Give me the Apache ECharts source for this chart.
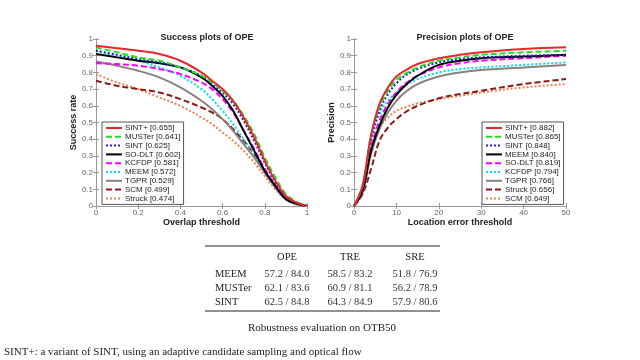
<!DOCTYPE html>
<html>
<head>
<meta charset="utf-8">
<script src="https://cdn.jsdelivr.net/npm/echarts@6/dist/echarts.min.js"></script>
<style>
  html, body { margin: 0; padding: 0; background: #fff; }
  #chart { width: 640px; height: 360px; }
</style>
</head>
<body>
<div id="chart"></div>
<script>
// ---- success plot (overlap threshold 0..1) ----
const successX = [0, 0.1, 0.2, 0.3, 0.4, 0.5, 0.55, 0.6, 0.65, 0.7, 0.75, 0.8, 0.85, 0.9, 0.95, 1];
const successNames = ['SINT+ [0.655]', 'MUSTer [0.641]', 'SINT [0.625]', 'SO-DLT [0.602]', 'KCFDP [0.581]',
  'MEEM [0.572]', 'TGPR [0.529]', 'SCM [0.499]', 'Struck [0.474]'];
const sucSINTplus = [0.96, 0.945, 0.93, 0.91, 0.87, 0.80, 0.75, 0.70, 0.63, 0.53, 0.41, 0.27, 0.15, 0.06, 0.02, 0];
const sucMUSTer = [0.95, 0.92, 0.89, 0.87, 0.83, 0.78, 0.74, 0.69, 0.63, 0.54, 0.43, 0.29, 0.17, 0.07, 0.025, 0];
const sucSINT = [0.93, 0.905, 0.88, 0.86, 0.83, 0.78, 0.73, 0.68, 0.61, 0.51, 0.39, 0.26, 0.14, 0.055, 0.02, 0];
const sucSODLT = [0.91, 0.89, 0.87, 0.855, 0.83, 0.77, 0.72, 0.66, 0.57, 0.45, 0.33, 0.21, 0.12, 0.04, 0.015, 0];
const sucKCFDP = [0.855, 0.85, 0.84, 0.82, 0.79, 0.74, 0.70, 0.64, 0.56, 0.45, 0.34, 0.22, 0.12, 0.05, 0.015, 0];
const sucMEEM = [0.93, 0.90, 0.87, 0.83, 0.78, 0.70, 0.64, 0.57, 0.49, 0.40, 0.31, 0.21, 0.12, 0.05, 0.015, 0];
const sucTGPR = [0.865, 0.84, 0.81, 0.77, 0.71, 0.63, 0.58, 0.52, 0.45, 0.37, 0.29, 0.20, 0.11, 0.04, 0.01, 0];
const sucSCM = [0.75, 0.72, 0.70, 0.68, 0.64, 0.59, 0.56, 0.52, 0.46, 0.39, 0.31, 0.22, 0.12, 0.05, 0.015, 0];
const sucStruck = [0.79, 0.74, 0.70, 0.65, 0.60, 0.53, 0.49, 0.44, 0.39, 0.33, 0.26, 0.18, 0.10, 0.04, 0.01, 0];

// ---- precision plot (location error threshold 0..50) ----
const precisionX = [0, 2, 4, 6, 8, 10, 12, 15, 20, 25, 30, 40, 50];
const precisionNames = ['SINT+ [0.882]', 'MUSTer [0.865]', 'SINT [0.848]', 'MEEM [0.840]', 'SO-DLT [0.819]',
  'KCFDP [0.794]', 'TGPR [0.766]', 'Struck [0.656]', 'SCM [0.649]'];
const preSINTplus = [0, 0.12, 0.42, 0.61, 0.71, 0.775, 0.81, 0.85, 0.885, 0.905, 0.92, 0.94, 0.95];
const preMUSTer = [0, 0.12, 0.42, 0.59, 0.69, 0.755, 0.79, 0.83, 0.87, 0.89, 0.905, 0.92, 0.93];
const preSINT = [0, 0.11, 0.40, 0.57, 0.67, 0.735, 0.78, 0.82, 0.86, 0.88, 0.89, 0.90, 0.905];
const preMEEM = [0, 0.09, 0.33, 0.48, 0.59, 0.665, 0.72, 0.78, 0.845, 0.87, 0.885, 0.895, 0.905];
const preSODLT = [0, 0.09, 0.35, 0.51, 0.61, 0.68, 0.73, 0.78, 0.83, 0.855, 0.87, 0.885, 0.90];
const preKCFDP = [0, 0.10, 0.38, 0.55, 0.63, 0.68, 0.72, 0.76, 0.80, 0.82, 0.83, 0.845, 0.86];
const preTGPR = [0, 0.08, 0.31, 0.46, 0.56, 0.63, 0.68, 0.73, 0.775, 0.80, 0.815, 0.83, 0.845];
const preStruck = [0, 0.07, 0.22, 0.39, 0.47, 0.52, 0.56, 0.60, 0.645, 0.67, 0.69, 0.73, 0.76];
const preSCM = [0, 0.09, 0.34, 0.47, 0.53, 0.57, 0.59, 0.615, 0.64, 0.66, 0.68, 0.71, 0.73];

// ---- robustness table ----
const tableCols = ['OPE', 'TRE', 'SRE'];
const tableRows = ['MEEM', 'MUSTer', 'SINT'];
const tableCells = [
  ['57.2 / 84.0', '58.5 / 83.2', '51.8 / 76.9'],
  ['62.1 / 83.6', '60.9 / 81.1', '56.2 / 78.9'],
  ['62.5 / 84.8', '64.3 / 84.9', '57.9 / 80.6']
];
const tableCaption = 'Robustness evaluation on OTB50';
const footnote = 'SINT+: a variant of SINT, using an adaptive candidate sampling and optical flow';

// line style per legend rank (same in both plots)
const styles = [
  { color: '#e8262b', type: 'solid' },
  { color: '#22dd22', type: [6, 3] },
  { color: '#2424c8', type: [2, 2] },
  { color: '#000000', type: 'solid' },
  { color: '#ff00ff', type: [6, 3] },
  { color: '#00e0ee', type: [2, 2] },
  { color: '#8a817c', type: 'solid' },
  { color: '#8b1a1a', type: [6, 3] },
  { color: '#f08050', type: [2, 2] }
];

const successData = [sucSINTplus, sucMUSTer, sucSINT, sucSODLT, sucKCFDP, sucMEEM, sucTGPR, sucSCM, sucStruck];
const precisionData = [preSINTplus, preMUSTer, preSINT, preMEEM, preSODLT, preKCFDP, preTGPR, preStruck, preSCM];

const sansFont = '"Liberation Sans", "DejaVu Sans", sans-serif';
const serifFont = '"Liberation Serif", "DejaVu Serif", serif';

const makeSeries = (names, data, xs, axisIdx) => names.map((name, i) => ({
  name: name,
  type: 'line',
  xAxisIndex: axisIdx,
  yAxisIndex: axisIdx,
  data: xs.map((x, k) => [x, data[i][k]]),
  smooth: 0.35,
  symbol: 'none',
  showSymbol: false,
  silent: true,
  z: 20 - i,
  lineStyle: { width: 2, color: styles[i].color, type: styles[i].type },
  itemStyle: { color: styles[i].color }
}));

const mainX = (grid, max, interval, name) => ({
  type: 'value', gridIndex: grid, min: 0, max: max, interval: interval,
  name: name, nameLocation: 'middle', nameGap: 11,
  nameTextStyle: { fontFamily: sansFont, fontWeight: 'bold', fontSize: 9, color: '#222' },
  axisLine: { show: true, lineStyle: { color: '#999' } },
  axisTick: { inside: true, length: 3, lineStyle: { color: '#999' } },
  axisLabel: { fontFamily: sansFont, fontSize: 8, color: '#666', margin: 3 },
  splitLine: { show: false }
});
const mainY = (grid, name) => ({
  type: 'value', gridIndex: grid, min: 0, max: 1, interval: 0.1,
  name: name, nameLocation: 'middle', nameGap: 18, nameMoveOverlap: false,
  nameTextStyle: { fontFamily: sansFont, fontWeight: 'bold', fontSize: 9, color: '#222' },
  axisLine: { show: true, lineStyle: { color: '#999' } },
  axisTick: { inside: true, length: 3, lineStyle: { color: '#999' } },
  axisLabel: { fontFamily: sansFont, fontSize: 8, color: '#666', margin: 3 },
  splitLine: { show: false }
});
const boxAxis = (kind, grid, max, interval) => ({
  type: 'value', gridIndex: grid, min: 0, max: max, interval: interval,
  position: kind === 'x' ? 'top' : 'right',
  axisLine: { show: true, lineStyle: { color: '#999' } },
  axisTick: { inside: true, length: 3, lineStyle: { color: '#999' } },
  axisLabel: { show: false },
  splitLine: { show: false }
});

const legendBox = (names, left) => ({
  data: names,
  orient: 'vertical',
  left: left, top: 122,
  itemWidth: 16, itemHeight: 6, itemGap: 0.8,
  padding: [2, 3, 2, 3],
  borderColor: '#555', borderWidth: 1,
  backgroundColor: '#fff',
  itemStyle: { opacity: 0, borderWidth: 0 },
  textStyle: { fontFamily: sansFont, fontSize: 8, lineHeight: 8, color: '#222', padding: [0, 0, 0, -2] },
  selectedMode: false
});

// table graphics
const tableGraphics = [];
const colX = [287, 350, 415];
const rowY = [274, 288, 302];
tableGraphics.push({ type: 'line', shape: { x1: 205, y1: 246, x2: 440, y2: 246 }, style: { stroke: '#222', lineWidth: 1 } });
tableGraphics.push({ type: 'line', shape: { x1: 205, y1: 311, x2: 440, y2: 311 }, style: { stroke: '#222', lineWidth: 1 } });
tableCols.forEach((c, j) => {
  tableGraphics.push({ type: 'text', x: colX[j], y: 257, style: { text: c, font: '10.5px ' + serifFont, fill: '#222', textAlign: 'center', textVerticalAlign: 'middle' } });
});
tableRows.forEach((r, i) => {
  tableGraphics.push({ type: 'text', x: 215, y: rowY[i], style: { text: r, font: '10.5px ' + serifFont, fill: '#222', textAlign: 'left', textVerticalAlign: 'middle' } });
  tableCells[i].forEach((v, j) => {
    tableGraphics.push({ type: 'text', x: colX[j], y: rowY[i], style: { text: v, font: '10.5px ' + serifFont, fill: '#333', textAlign: 'center', textVerticalAlign: 'middle' } });
  });
});
tableGraphics.push({ type: 'text', x: 322, y: 328, style: { text: tableCaption, font: '11px ' + serifFont, fill: '#222', textAlign: 'center', textVerticalAlign: 'middle' } });
tableGraphics.push({ type: 'text', x: 4, y: 352, style: { text: footnote, font: '11px ' + serifFont, fill: '#222', textAlign: 'left', textVerticalAlign: 'middle' } });

const chart = echarts.init(document.getElementById('chart'), null, { renderer: 'canvas' });
const option = {
  animation: false,
  backgroundColor: '#fff',
  title: [
    { text: 'Success plots of OPE', left: 202, top: 28, textAlign: 'center',
      textStyle: { fontFamily: sansFont, fontWeight: 'bold', fontSize: 9, color: '#222' } },
    { text: 'Precision plots of OPE', left: 460, top: 28, textAlign: 'center',
      textStyle: { fontFamily: sansFont, fontWeight: 'bold', fontSize: 9, color: '#222' } }
  ],
  legend: [legendBox(successNames, 102), legendBox(precisionNames, 482)],
  grid: [
    { left: 96, top: 39, width: 211, height: 167, containLabel: false },
    { left: 354, top: 39, width: 212, height: 167, containLabel: false }
  ],
  xAxis: [
    mainX(0, 1, 0.2, 'Overlap threshold'),
    mainX(1, 50, 10, 'Location error threshold'),
    boxAxis('x', 0, 1, 0.2),
    boxAxis('x', 1, 50, 10)
  ],
  yAxis: [
    mainY(0, 'Success rate'),
    mainY(1, 'Precision'),
    boxAxis('y', 0, 1, 0.1),
    boxAxis('y', 1, 1, 0.1)
  ],
  series: [].concat(
    makeSeries(successNames, successData, successX, 0),
    makeSeries(precisionNames, precisionData, precisionX, 1)
  ),
  graphic: tableGraphics
};
chart.setOption(option);
</script>
</body>
</html>
